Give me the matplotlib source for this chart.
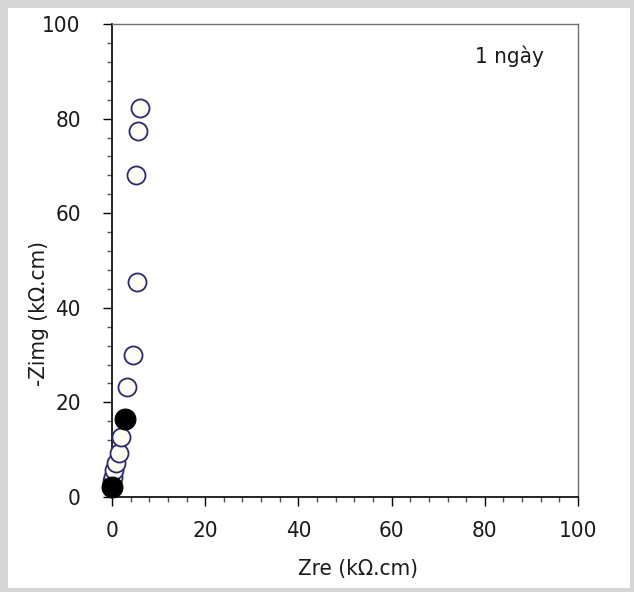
import matplotlib
matplotlib.use("Agg")
import matplotlib.pyplot as plt
from matplotlib.ticker import MultipleLocator
from matplotlib.patches import Rectangle
from matplotlib import font_manager

plt.rcParams['font.family'] = ['DejaVu Sans']
plt.rcParams['font.stretch'] = 'condensed'

# Nyquist data (kOhm.cm)
zre_open = [0.0, 0.15, 0.4, 0.9, 1.4, 1.9, 3.2, 4.4, 5.3, 5.1, 5.5, 6.0]
zimg_open = [3.4, 4.3, 5.7, 7.1, 9.2, 12.6, 23.3, 30.0, 45.5, 68.1, 77.4, 82.3]
zre_fill = [0.0, 2.8]
zimg_fill = [2.2, 16.4]

x_ticks = [0, 20, 40, 60, 80, 100]
y_ticks = [0, 20, 40, 60, 80, 100]
x_label = "Zre (kΩ.cm)"
y_label = "-Zimg (kΩ.cm)"
panel_label = "1 ngày"

fig = plt.figure(figsize=(6.34, 5.92), dpi=100)
fig.patch.set_facecolor('#d6d6d6')
fig.patches.append(Rectangle((8 / 634, 4 / 592), 622 / 634, 580 / 592,
                             transform=fig.transFigure, facecolor='white',
                             edgecolor='none', zorder=-10))

ax = fig.add_axes([112 / 634, 95 / 592, 466 / 634, 473 / 592])
ax.set_facecolor('white')

ax.plot(zre_open, zimg_open, linestyle='none', marker='o', markersize=13,
        markerfacecolor='#fcfcf2', markeredgecolor='#2b2a6e',
        markeredgewidth=1.3, clip_on=False, zorder=3)
ax.plot(zre_fill, zimg_fill, linestyle='none', marker='o', markersize=15,
        markerfacecolor='black', markeredgecolor='black',
        markeredgewidth=0.8, clip_on=False, zorder=4)

ax.set_xlim(0, 100)
ax.set_ylim(0, 100)
ax.set_xticks(x_ticks)
ax.set_yticks(y_ticks)
ax.xaxis.set_minor_locator(MultipleLocator(4))
ax.yaxis.set_minor_locator(MultipleLocator(4))

for side in ('left', 'bottom'):
    ax.spines[side].set_color('black')
    ax.spines[side].set_linewidth(1.2)
for side in ('top', 'right'):
    ax.spines[side].set_color('#707070')
    ax.spines[side].set_linewidth(1.0)

ax.tick_params(axis='both', which='both', direction='out', top=False,
               right=False, colors='black', width=1.0)
ax.tick_params(axis='both', which='major', length=6.5, labelsize=16)
ax.tick_params(axis='both', which='minor', length=3.6, color='#555555')
ax.tick_params(axis='y', which='major', pad=16)
ax.tick_params(axis='x', which='major', pad=11)
for lab in ax.get_xticklabels() + ax.get_yticklabels():
    lab.set_color('#1a1a1a')

ax.text((358 - 112) / 466, -0.152, x_label, transform=ax.transAxes,
        ha='center', va='center', fontsize=16, color='#1a1a1a')
ax.text((39 - 112) / 466, (497 - 313) / 473, y_label, transform=ax.transAxes,
        ha='center', va='center', rotation=90, fontsize=16, color='#1a1a1a')
ax.text((475 - 112) / 466, (497 - 63) / 473, panel_label,
        transform=ax.transAxes, ha='left', va='baseline', fontsize=16,
        color='#1a1a1a')

fig.savefig('out.png', dpi=100, facecolor=fig.get_facecolor())
